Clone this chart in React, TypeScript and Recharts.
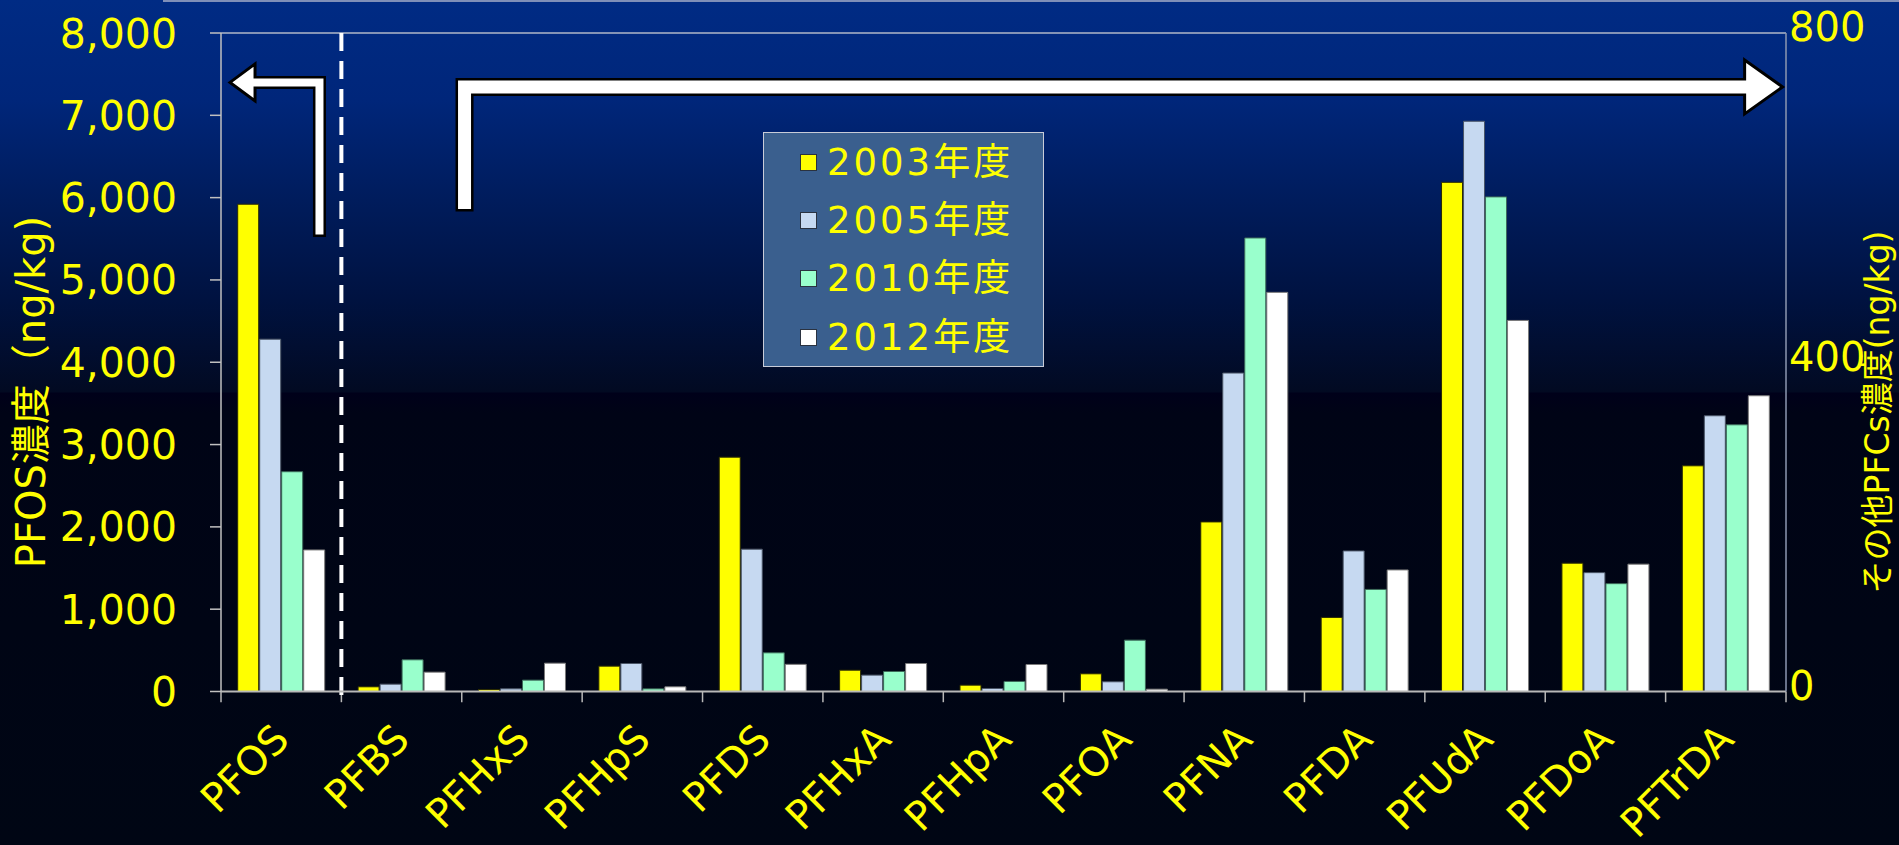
import React from 'react';
import { BarChart, Bar, XAxis, YAxis, Legend, ReferenceLine, Label } from 'recharts';

const FONT = "'DejaVu Sans', 'Noto Sans CJK JP', sans-serif";
const TEXT_COLOR = '#FFFF00';

const categories = ['PFOS', 'PFBS', 'PFHxS', 'PFHpS', 'PFDS', 'PFHxA', 'PFHpA', 'PFOA', 'PFNA', 'PFDA', 'PFUdA', 'PFDoA', 'PFTrDA'];
const years = ['2003年度', '2005年度', '2010年度', '2012年度'];

// PFOS concentration (left axis, ng/kg), by survey year
const pfosValues = [5920, 4280, 2670, 1720];

// Other PFCs concentration (right axis, ng/kg); PFOS slot is empty
const others2003 = [null, 5.7, 2.4, 30.8, 284.7, 25.9, 7.7, 21.5, 206, 90, 618.6, 155.9, 274.2];
const others2005 = [null, 8.9, 3.2, 34.0, 172.9, 19.9, 3.6, 11.8, 386.9, 170.8, 692.8, 144.4, 335];
const others2010 = [null, 38.5, 13.8, 3.2, 47, 24.3, 12.2, 62.4, 551, 124, 600.9, 131, 324];
const others2012 = [null, 23.5, 34.4, 5.7, 33, 34.0, 32.8, 2.8, 484.9, 147.7, 450.8, 154.7, 359.3];

const leftTicks = [0, 1000, 2000, 3000, 4000, 5000, 6000, 7000, 8000];
const rightTicks = [0, 400, 800];

const fills = ['#FFFF00', '#C6D9F1', '#99FFCC', '#FFFFFF'];
const strokes = ['#2a2a00', '#4a5566', '#3d6b5a', '#7a7a7a'];

const otherSeries = [others2003, others2005, others2010, others2012];

const data = categories.map((name, i) => {
  const row: Record<string, any> = { name, slot: i + 0.5 };
  years.forEach((_, k) => {
    row[`pfos${k}`] = i === 0 ? pfosValues[k] : null;
    row[`other${k}`] = otherSeries[k][i];
  });
  return row;
});

const boundaries = categories.map((_, i) => i).concat([categories.length]);
const pfosBoundary = 1;

const makeArrowShape = (shaft: number, outline: number, headHalf: number, headLen: number) => (props: any) => {
  const { x1, y1, x2, y2 } = props;
  const dir = x2 > x1 ? 1 : -1;
  const xb = x2 - dir * headLen;
  const d = `M${x1},${y1} L${x1},${y2} L${xb},${y2}`;
  const head = `M${xb},${y2 - headHalf} L${x2},${y2} L${xb},${y2 + headHalf} Z`;
  return (
    <g>
      <path d={d} fill="none" stroke="#000" strokeWidth={shaft + 2 * outline} strokeLinecap="square" strokeLinejoin="miter" />
      <path d={head} fill="#fff" stroke="#000" strokeWidth={3} strokeLinejoin="miter" />
      <path d={d} fill="none" stroke="#fff" strokeWidth={shaft} strokeLinecap="square" strokeLinejoin="miter" />
    </g>
  );
};

const XTick = (props: any) => {
  const { x, y, payload } = props;
  const ax = x + 10;
  const ay = y + 40;
  return (
    <text
      x={ax}
      y={ay}
      transform={`rotate(-45, ${ax}, ${ay})`}
      textAnchor="end"
      fill={TEXT_COLOR}
      fontSize={40}
      fontFamily={FONT}
    >
      {payload.value}
    </text>
  );
};

const RightTick = (props: any) => {
  const { x, y, payload } = props;
  return (
    <text x={x} y={y + 0.36 * 40 - 6} textAnchor="start" fill={TEXT_COLOR} fontSize={40} fontFamily={FONT}>
      {payload.value}
    </text>
  );
};

const LeftAxisLabel = () => (
  <text
    x={45}
    y={392}
    transform="rotate(-90, 45, 392)"
    textAnchor="middle"
    fill={TEXT_COLOR}
    fontSize={40}
    fontFamily={FONT}
  >
    PFOS濃度（ng/kg)
  </text>
);

const RightAxisLabel = () => (
  <text
    x={1889}
    y={412}
    transform="rotate(-90, 1889, 412)"
    textAnchor="middle"
    fill={TEXT_COLOR}
    fontSize={33}
    fontFamily={FONT}
  >
    その他PFCs濃度(ng/kg)
  </text>
);

const renderLegend = (props: any) => {
  const payload = (props.payload || []).filter((e: any) => e.type !== 'none');
  return (
    <div
      style={{
        width: 281,
        height: 235,
        boxSizing: 'border-box',
        background: '#3A5F8E',
        border: '1.5px solid #C8CCD8',
      }}
    >
      {payload.map((e: any) => (
        <div key={e.value} style={{ display: 'flex', alignItems: 'center', height: 58.3, paddingLeft: 36 }}>
          <span
            style={{
              display: 'inline-block',
              width: 17,
              height: 17,
              background: e.color,
              border: '1.5px solid #2a3240',
              boxSizing: 'border-box',
              marginRight: 10,
            }}
          />
          <span style={{ color: TEXT_COLOR, fontSize: 37, fontFamily: FONT, letterSpacing: 3, lineHeight: 1 }}>
            {e.value}
          </span>
        </div>
      ))}
    </div>
  );
};

export default function App() {
  return (
    <div
      style={{
        position: 'fixed',
        left: 0,
        top: 0,
        width: 1899,
        height: 845,
        overflow: 'hidden',
        background:
          'linear-gradient(to bottom, #002b84 0px, #00267a 100px, #001c5c 200px, #001240 300px, #020a22 392px, #00001a 393px, #000416 413px, #000614 845px)',
      }}
    >
      <div style={{ position: 'absolute', left: 163, right: 0, top: 0, height: 2, background: '#7f8fb8' }} />
      <BarChart
        width={1899}
        height={845}
        data={data}
        margin={{ top: 33, right: 0, bottom: 0, left: 0 }}
        barCategoryGap={16.7}
        barGap={1}
      >
        <XAxis
          xAxisId="cat"
          dataKey="name"
          type="category"
          height={153.5}
          interval={0}
          tickLine={false}
          tickSize={10}
          tickMargin={0}
          axisLine={{ stroke: '#B8B8B8', strokeWidth: 2 }}
          tick={XTick}
        />
        <XAxis
          xAxisId="frac"
          dataKey="slot"
          type="number"
          scale="linear"
          domain={[0, categories.length]}
          allowDataOverflow
          hide
        />
        <YAxis
          yAxisId="left"
          orientation="left"
          width={221}
          domain={[0, 8000]}
          ticks={leftTicks}
          interval={0}
          tickSize={11}
          tickMargin={33}
          tickFormatter={(v: number) => v.toLocaleString('en-US')}
          tick={{ fill: TEXT_COLOR, fontSize: 41, fontFamily: FONT }}
          axisLine={{ stroke: '#C0C0C0', strokeWidth: 1.5 }}
          tickLine={{ stroke: '#C0C0C0', strokeWidth: 1.5 }}
        >
          <Label content={LeftAxisLabel} />
        </YAxis>
        <YAxis
          yAxisId="right"
          orientation="right"
          width={113}
          domain={[0, 800]}
          ticks={rightTicks}
          interval={0}
          tickLine={false}
          tickSize={0}
          tickMargin={3}
          tick={RightTick}
          axisLine={{ stroke: '#8C97B0', strokeWidth: 1.5 }}
        >
          <Label content={RightAxisLabel} />
        </YAxis>

        <ReferenceLine xAxisId="frac" yAxisId="right" y={800} stroke="#B0B8C8" strokeWidth={1.5} ifOverflow="visible" />

        {years.map((y, k) => (
          <Bar
            key={`p${k}`}
            dataKey={`pfos${k}`}
            name={`PFOS ${y}`}
            xAxisId="cat"
            yAxisId="left"
            stackId={`s${k}`}
            fill={fills[k]}
            stroke={strokes[k]}
            strokeWidth={1}
            legendType="none"
            isAnimationActive={false}
          />
        ))}
        {years.map((y, k) => (
          <Bar
            key={`o${k}`}
            dataKey={`other${k}`}
            name={y}
            xAxisId="cat"
            yAxisId="right"
            stackId={`s${k}`}
            fill={fills[k]}
            stroke={strokes[k]}
            strokeWidth={1}
            isAnimationActive={false}
          />
        ))}

        {boundaries.map((b) => (
          <ReferenceLine
            key={`tick${b}`}
            xAxisId="frac"
            yAxisId="right"
            segment={[{ x: b, y: 0 }, { x: b, y: -13 }]}
            stroke="#B8B8B8"
            strokeWidth={1.5}
            ifOverflow="visible"
          />
        ))}

        <ReferenceLine
          xAxisId="frac"
          yAxisId="right"
          segment={[{ x: pfosBoundary, y: 800 }, { x: pfosBoundary, y: -13 }]}
          stroke="#FFFFFF"
          strokeWidth={4}
          strokeDasharray="18 10"
          ifOverflow="visible"
        />

        <ReferenceLine
          xAxisId="frac"
          yAxisId="right"
          segment={[{ x: 0.818, y: 560 }, { x: 0.075, y: 740 }]}
          shape={makeArrowShape(8, 2.5, 18.5, 25)}
          ifOverflow="visible"
        />
        <ReferenceLine
          xAxisId="frac"
          yAxisId="right"
          segment={[{ x: 2.023, y: 594 }, { x: 12.972, y: 734.5 }]}
          shape={makeArrowShape(13, 2.5, 27, 38)}
          ifOverflow="visible"
        />

        <Legend
          layout="vertical"
          align="center"
          verticalAlign="middle"
          wrapperStyle={{ left: 763, top: 132, width: 281, height: 235 }}
          content={renderLegend}
        />
      </BarChart>
    </div>
  );
}
